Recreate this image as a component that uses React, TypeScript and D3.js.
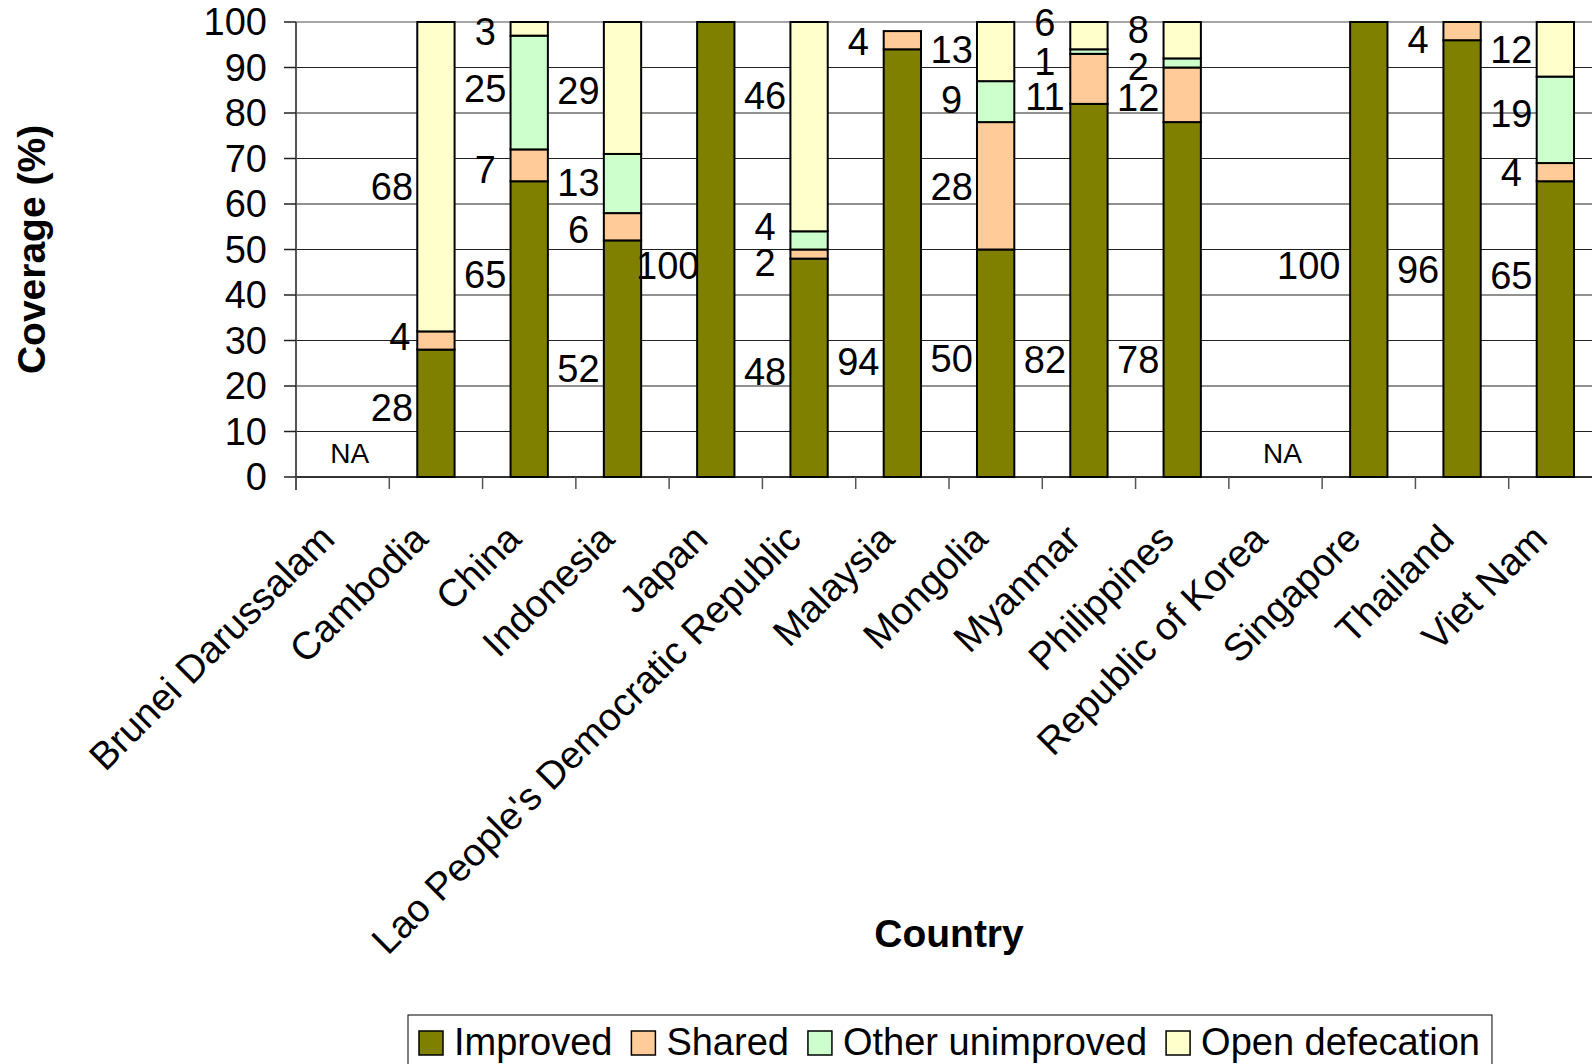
import React from "react";
import * as d3 from "d3";

const categories = [
  "Brunei Darussalam",
  "Cambodia",
  "China",
  "Indonesia",
  "Japan",
  "Lao People's Democratic Republic",
  "Malaysia",
  "Mongolia",
  "Myanmar",
  "Philippines",
  "Republic of Korea",
  "Singapore",
  "Thailand",
  "Viet Nam",
];

const seriesNames = ["Improved", "Shared", "Other unimproved", "Open defecation"];

const improved = [null, 28, 65, 52, 100, 48, 94, 50, 82, 78, null, 100, 96, 65];
const shared = [null, 4, 7, 6, 0, 2, 4, 28, 11, 12, null, 0, 4, 4];
const otherUnimproved = [null, 0, 25, 13, 0, 4, 0, 9, 1, 2, null, 0, 0, 19];
const openDefecation = [null, 68, 3, 29, 0, 46, 0, 13, 6, 8, null, 0, 0, 12];

// where each data label sits, in coverage units
const improvedLabelAt = [null, 15.3, 44.5, 23.7, 46.5, 23.1, 25.3, 26.1, 25.7, 25.7, null, 46.5, 45.5, 44.3];
const sharedLabelAt = [null, 30.9, 67.5, 54.3, null, 47, 95.7, 63.8, 83.6, 83.3, null, null, 96.1, 66.8];
const otherLabelAt = [null, null, 85.3, 64.6, null, 55, null, 82.9, 91.3, 90.2, null, null, null, 79.9];
const openLabelAt = [null, 63.8, 97.9, 84.9, null, 83.7, null, 93.9, 99.9, 98.3, null, null, null, 93.9];
const naLabelAt = 5.2;

const yTicks = [0, 10, 20, 30, 40, 50, 60, 70, 80, 90, 100];

const colors = ["#808000", "#FFCC99", "#CCFFCC", "#FFFFCC"];
const FONT = "'Liberation Sans', Arial, Helvetica, sans-serif";

export default function App() {
  React.useEffect(() => {
    document.body.style.margin = "0";
    document.body.style.overflow = "hidden";
  }, []);

  const W = 1592;
  const H = 1064;
  const left = 296;
  const right = 1602;
  const top = 22;
  const bottom = 477;

  const x = d3
    .scaleBand<string>()
    .domain(categories)
    .range([left, right])
    .paddingInner(0.6)
    .paddingOuter(0.3);
  const step = x.step();
  const y = d3.scaleLinear().domain([0, 100]).range([bottom, top]);

  const values = [improved, shared, otherUnimproved, openDefecation];
  const labelAts = [improvedLabelAt, sharedLabelAt, otherLabelAt, openLabelAt];
  // hand-dragged label nudges (px), as in the source chart
  const labelNudge: Record<string, number> = { "0-11": -16, "0-4": -4, "1-1": 8 };

  const rows = categories.map((c, i) => ({
    c,
    Improved: improved[i] ?? 0,
    Shared: shared[i] ?? 0,
    "Other unimproved": otherUnimproved[i] ?? 0,
    "Open defecation": openDefecation[i] ?? 0,
  }));
  const stacked = d3.stack<any>().keys(seriesNames)(rows);

  const measure = (t: string, size: number) => {
    const cv = document.createElement("canvas");
    const ctx = cv.getContext("2d")!;
    ctx.font = `${size}px 'Liberation Sans', Arial`;
    return ctx.measureText(t).width;
  };
  const legFont = 38;
  let lx = 419;
  const legendItems = seriesNames.map((n, i) => {
    const item = { n, i, sx: lx, tx: lx + 35 };
    lx = lx + 35 + measure(n, legFont) + 19;
    return item;
  });
  const legendRight = lx - 19 + 12;

  const boundaries = d3.range(categories.length + 1).map((k) => left + k * step);

  return (
    <svg
      width={W}
      height={H}
      style={{ position: "absolute", left: 0, top: 0, background: "#fff" }}
      fontFamily={FONT}
    >
      <rect x={0} y={0} width={W} height={H} fill="#fff" />
      {yTicks.map((t) => (
        <line
          key={"g" + t}
          x1={left}
          x2={right}
          y1={y(t)}
          y2={y(t)}
          stroke={t === 100 ? "#888" : "#222"}
          strokeWidth={t === 100 ? 1.5 : 1}
        />
      ))}
      <line x1={left} x2={left} y1={top} y2={bottom + 13} stroke="#555" strokeWidth={2} />
      {yTicks.map((t) => (
        <g key={"yt" + t}>
          <line x1={left - 12} x2={left} y1={y(t)} y2={y(t)} stroke="#222" strokeWidth={1.5} />
          <text x={267} y={y(t)} dy="0.35em" textAnchor="end" fontSize={38} fill="#000">
            {t}
          </text>
        </g>
      ))}
      <line x1={left} x2={right} y1={bottom} y2={bottom} stroke="#333" strokeWidth={2} />
      {boundaries.map((b, k) => (
        <line key={"xt" + k} x1={b} x2={b} y1={bottom} y2={bottom + 12} stroke="#555" strokeWidth={1.5} />
      ))}

      {stacked.map((layer, si) => (
        <g key={"s" + si}>
          {layer.map((d, i) => {
            const v = d[1] - d[0];
            if (!v) return null;
            return (
              <rect
                key={i}
                x={x(categories[i])!}
                width={x.bandwidth()}
                y={y(d[1])}
                height={y(d[0]) - y(d[1])}
                fill={colors[si]}
                stroke="#000"
                strokeWidth={2}
              />
            );
          })}
        </g>
      ))}

      {values.map((arr, si) =>
        arr.map((v, i) => {
          const at = labelAts[si][i];
          if (!v || at == null) return null;
          const cx = x(categories[i])! + x.bandwidth() / 2 - 44 + (labelNudge[si + "-" + i] ?? 0);
          return (
            <text
              key={"l" + si + "-" + i}
              x={cx}
              y={y(at)}
              dy="0.35em"
              textAnchor="middle"
              fontSize={38}
              fill="#000"
            >
              {v}
            </text>
          );
        })
      )}
      {categories.map((c, i) =>
        improved[i] == null ? (
          <text
            key={"na" + i}
            x={x(c)! + x.bandwidth() / 2 + 7}
            y={y(naLabelAt)}
            dy="0.35em"
            textAnchor="middle"
            fontSize={28}
            fill="#000"
          >
            NA
          </text>
        ) : null
      )}

      {categories.map((c) => {
        const cx = x(c)! + x.bandwidth() / 2 - 6;
        const cy = 541;
        return (
          <text
            key={"c" + c}
            transform={`translate(${cx},${cy}) rotate(-45)`}
            textAnchor="end"
            fontSize={38.5}
            fill="#000"
          >
            {c}
          </text>
        );
      })}

      <text
        transform={`translate(45,${(top + bottom) / 2}) rotate(-90)`}
        textAnchor="middle"
        fontSize={39}
        fontWeight="bold"
        fill="#000"
      >
        Coverage (%)
      </text>
      <text x={(left + right) / 2} y={947} textAnchor="middle" fontSize={39} fontWeight="bold" fill="#000">
        Country
      </text>

      <rect x={408} y={1015} width={legendRight - 408} height={80} fill="#fff" stroke="#000" strokeWidth={1} />
      {legendItems.map((it) => (
        <g key={"lg" + it.i}>
          <rect x={it.sx} y={1031} width={24} height={24} fill={colors[it.i]} stroke="#000" strokeWidth={1.5} />
          <text x={it.tx} y={1055} fontSize={legFont} fill="#000">
            {it.n}
          </text>
        </g>
      ))}
    </svg>
  );
}
